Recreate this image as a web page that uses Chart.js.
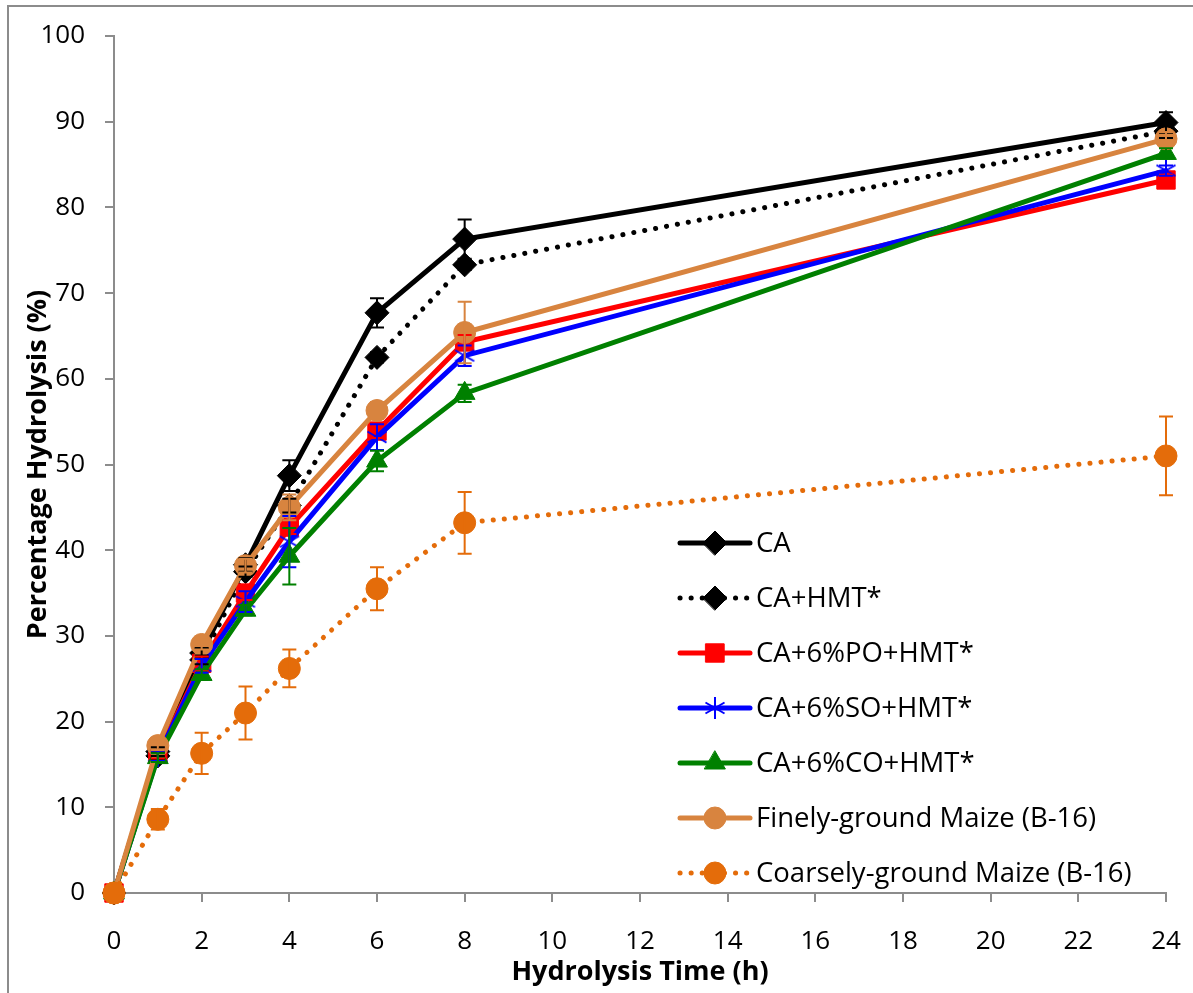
<!DOCTYPE html>
<html>
<head>
<meta charset="utf-8">
<script src="https://cdn.jsdelivr.net/npm/chart.js@4/dist/chart.umd.min.js"></script>
<style>
  html, body { margin: 0; padding: 0; background: #fff; }
  #wrap { position: relative; width: 1193px; height: 993px; overflow: hidden; }
  #frame { position: absolute; left: 7px; top: 5px; width: 1300px; height: 1100px;
           border-left: 2px solid #8c8c8c; border-top: 2px solid #8c8c8c; }
  canvas { position: absolute; left: 0; top: 0; }
</style>
</head>
<body>
<div id="wrap">
  <div id="frame"></div>
  <canvas id="c" width="1193" height="993"></canvas>
</div>
<script>
// hydrolysis time (h)
var hours = [0, 1, 2, 3, 4, 6, 8, 24];

var seriesNames = ['CA', 'CA+HMT*', 'CA+6%PO+HMT*', 'CA+6%SO+HMT*',
                   'CA+6%CO+HMT*', 'Finely-ground Maize (B-16)', 'Coarsely-ground Maize (B-16)'];

var caVals     = [0, 16.5, 28.0, 38.3, 48.7, 67.7, 76.3, 89.9];
var caHmtVals  = [0, 16.0, 27.2, 37.5, 45.2, 62.5, 73.3, 88.9];
var poVals     = [0, 16.2, 26.8, 35.0, 42.7, 53.9, 64.3, 83.2];
var soVals     = [0, 16.0, 26.5, 34.0, 41.0, 53.2, 62.7, 84.3];
var coVals     = [0, 15.8, 25.5, 33.0, 39.3, 50.4, 58.3, 86.3];
var fineVals   = [0, 17.2, 29.0, 38.2, 45.0, 56.3, 65.4, 88.0];
var coarseVals = [0, 8.6, 16.3, 21.0, 26.2, 35.5, 43.2, 51.0];

// error bar half-widths
var caErr     = [0, 0.5, 0.6, 0.8, 1.8, 1.7, 2.3, 1.2];
var caHmtErr  = [0, 0.4, 0.5, 0.6, 0.8, 0.6, 0.6, 0.8];
var poErr     = [0, 0.5, 0.8, 0.8, 0.8, 0.8, 0.8, 0.6];
var soErr     = [0, 0.6, 0.8, 1.2, 3.0, 1.5, 1.2, 0.6];
var coErr     = [0, 0.5, 0.6, 0.6, 3.3, 1.2, 1.0, 0.6];
var fineErr   = [0, 0.5, 0.6, 0.8, 1.5, 1.0, 3.6, 0.8];
var coarseErr = [0, 1.2, 2.4, 3.1, 2.2, 2.5, 3.6, 4.6];

var xTicks = [0, 2, 4, 6, 8, 10, 12, 14, 16, 18, 20, 22, 24];

var FONT = "'Open Sans', 'Noto Sans', sans-serif";

// asterisk marker for the SO series
function makeStar(color) {
    var cv = document.createElement('canvas');
    cv.width = 26; cv.height = 26;
    var g = cv.getContext('2d');
    g.strokeStyle = color;
    g.lineWidth = 2;
    var r = 11;
    for (var k = 0; k < 3; k++) {
        var a = Math.PI / 2 + k * Math.PI / 3;
        g.beginPath();
        g.moveTo(13 + r * Math.cos(a), 13 + r * Math.sin(a));
        g.lineTo(13 - r * Math.cos(a), 13 - r * Math.sin(a));
        g.stroke();
    }
    return cv;
}
var starImg = makeStar('#0000ff');

function pts(vals) {
    return hours.map(function (h, i) { return { x: h, y: vals[i] }; });
}

var DOT = [0.1, 11];

var defs = [
    { vals: caVals, err: caErr, color: '#000000', style: 'rectRot', r: 12, dash: [] },
    { vals: caHmtVals, err: caHmtErr, color: '#000000', style: 'rectRot', r: 12, dash: DOT },
    { vals: poVals, err: poErr, color: '#ff0000', style: 'rect', r: 13, dash: [] },
    { vals: soVals, err: soErr, color: '#0000ff', style: starImg, r: 11, dash: [] },
    { vals: coVals, err: coErr, color: '#008000', style: 'triangle', r: 12, dash: [] },
    { vals: fineVals, err: fineErr, color: '#d8843f', style: 'circle', r: 11, dash: [] },
    { vals: coarseVals, err: coarseErr, color: '#e46c0a', style: 'circle', r: 11, dash: DOT }
];

var datasets = defs.map(function (d, i) {
    return {
        label: seriesNames[i],
        data: pts(d.vals),
        err: d.err,
        borderColor: d.color,
        backgroundColor: d.color,
        borderWidth: 5,
        borderDash: d.dash,
        borderCapStyle: 'round',
        pointStyle: d.style,
        pointRadius: d.r,
        pointBorderWidth: 1,
        pointBorderColor: d.color,
        pointBackgroundColor: d.color,
        tension: 0,
        clip: false,
        order: 7 - i
    };
});

var errorBars = {
    id: 'errorBars',
    afterDatasetsDraw: function (chart) {
        var ctx = chart.ctx, xs = chart.scales.x, ys = chart.scales.y;
        ctx.save();
        chart.data.datasets.forEach(function (ds) {
            ctx.strokeStyle = ds.borderColor;
            ctx.lineWidth = 2;
            ctx.setLineDash([]);
            ds.data.forEach(function (p, i) {
                var e = ds.err[i];
                if (!e) return;
                var px = xs.getPixelForValue(p.x);
                var top = ys.getPixelForValue(p.y + e);
                var bot = ys.getPixelForValue(p.y - e);
                ctx.beginPath();
                ctx.moveTo(px, top); ctx.lineTo(px, bot);
                ctx.moveTo(px - 7, top); ctx.lineTo(px + 7, top);
                ctx.moveTo(px - 7, bot); ctx.lineTo(px + 7, bot);
                ctx.stroke();
            });
        });
        ctx.restore();
    }
};

var legendBox = {
    id: 'legendBox',
    afterDraw: function (chart) {
        var ctx = chart.ctx;
        var x0 = 680, x1 = 750, y0 = 543, step = 55;
        ctx.save();
        chart.data.datasets.forEach(function (ds, i) {
            var y = y0 + i * step;
            ctx.strokeStyle = ds.borderColor;
            ctx.lineWidth = 5;
            ctx.lineCap = 'round';
            ctx.setLineDash(ds.borderDash);
            ctx.beginPath();
            ctx.moveTo(x0, y); ctx.lineTo(x1, y);
            ctx.stroke();
            ctx.setLineDash([]);
            ctx.fillStyle = ds.backgroundColor;
            ctx.strokeStyle = ds.borderColor;
            ctx.lineWidth = 1;
            Chart.helpers.drawPoint(ctx, { pointStyle: ds.pointStyle, radius: ds.pointRadius, borderWidth: 1, rotation: 0 }, (x0 + x1) / 2, y);
            ctx.fillStyle = '#000';
            ctx.font = '27.5px ' + FONT;
            ctx.textBaseline = 'middle';
            ctx.textAlign = 'left';
            ctx.fillText(ds.label, x1 + 6, y + 1);
        });
        ctx.restore();
    }
};

new Chart(document.getElementById('c'), {
    type: 'line',
    data: { datasets: datasets },
    plugins: [errorBars, legendBox],
    options: {
        responsive: false,
        animation: false,
        layout: { padding: { top: 36, right: 27, left: 22, bottom: 4 } },
        plugins: { legend: { display: false }, tooltip: { enabled: false } },
        scales: {
            x: {
                type: 'linear', min: 0, max: 24,
                afterFit: function (s) { s.height = 96; s.paddingRight = 0; s.paddingLeft = 0; },
                afterBuildTicks: function (s) { s.ticks = xTicks.map(function (v) { return { value: v }; }); },
                grid: { drawOnChartArea: false, drawTicks: true, tickLength: 9, color: '#8c8c8c', lineWidth: 2 },
                border: { color: '#8c8c8c', width: 2 },
                ticks: { color: '#000', font: { family: FONT, size: 26 }, padding: 24, maxRotation: 0 },
                title: { display: true, text: 'Hydrolysis Time (h)', color: '#000',
                         font: { family: FONT, size: 27, weight: 'bold' }, padding: { top: 0, bottom: 0 } }
            },
            y: {
                min: 0, max: 100,
                afterFit: function (s) { s.width = 92; s.paddingTop = 0; s.paddingBottom = 0; },
                ticks: { stepSize: 10, color: '#000', font: { family: FONT, size: 26 }, padding: 20 },
                grid: { drawOnChartArea: false, drawTicks: true, tickLength: 9, color: '#8c8c8c', lineWidth: 2 },
                border: { color: '#8c8c8c', width: 2 },
                title: { display: true, text: 'Percentage Hydrolysis (%)', color: '#000',
                         font: { family: FONT, size: 27, weight: 'bold' }, padding: { top: 0, bottom: 0 } }
            }
        }
    }
});
</script>
</body>
</html>
